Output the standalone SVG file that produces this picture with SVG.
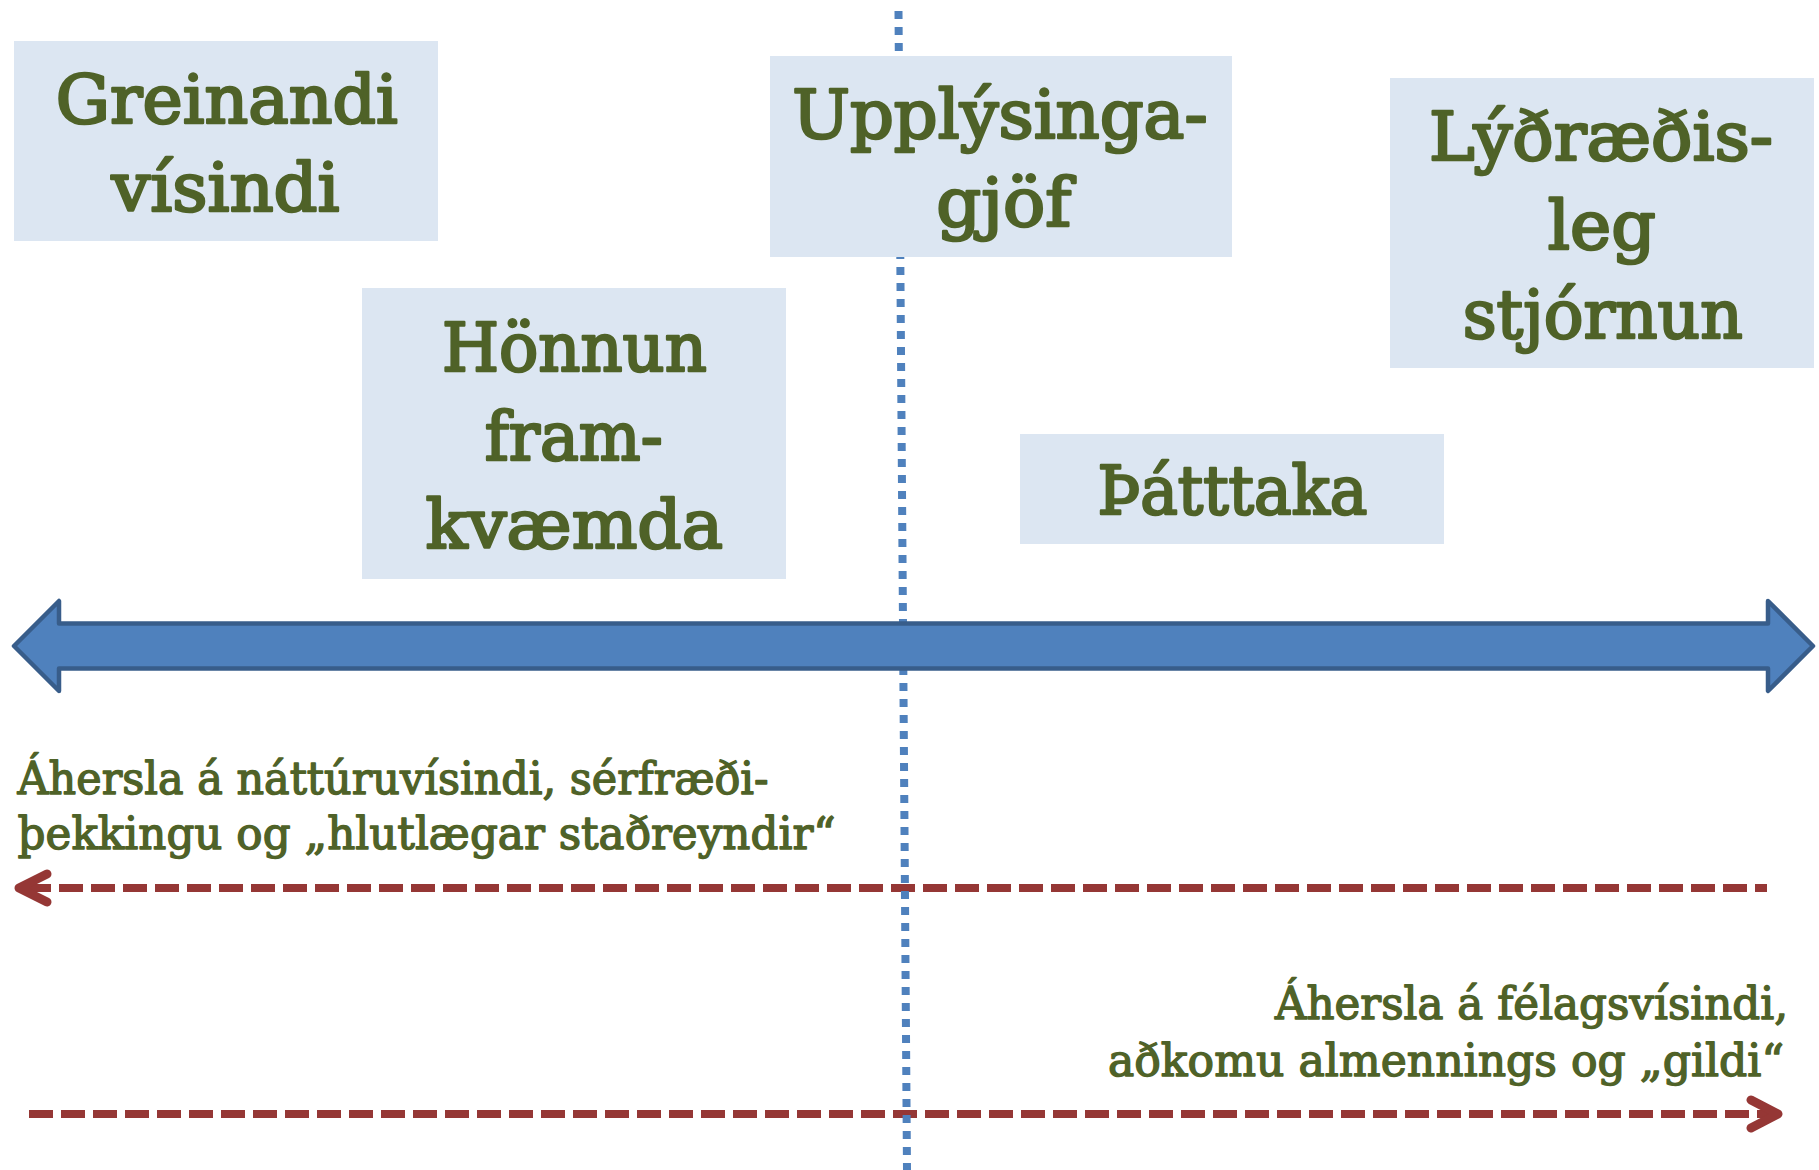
<svg xmlns="http://www.w3.org/2000/svg" width="1819" height="1170" viewBox="0 0 1819 1170">
<style>
.box{fill:#DCE6F2}
.big{font-family:"DejaVu Serif","Liberation Serif",serif;font-size:68px;fill:#4F6228;stroke:#4F6228;stroke-width:2.6;stroke-linejoin:round}
.small{font-family:"DejaVu Serif","Liberation Serif",serif;font-size:44px;fill:#4F6228;stroke:#4F6228;stroke-width:1.4;stroke-linejoin:round}
.red{fill:none;stroke:#953735;stroke-width:8;stroke-dasharray:24 8}
.head{fill:none;stroke:#953735;stroke-width:9;stroke-linecap:round;stroke-linejoin:round}
</style>
<rect width="1819" height="1170" fill="#FFFFFF"/>
<g id="connectors">
<line class="red" x1="27" y1="888" x2="1767" y2="888"/>
<path class="head" d="M47,874 L19,888 L47,902"/>
<line class="red" x1="29" y1="1114" x2="1774" y2="1114"/>
<path class="head" d="M1751,1100 L1778,1114 L1751,1128"/>
<line x1="898.5" y1="11" x2="907" y2="1170" stroke="#4F81BD" stroke-width="8" stroke-dasharray="8 8"/>
<path id="axis" d="M14,646 L59,601 L59,623.5 L1768,623.5 L1768,601 L1813,646 L1768,691 L1768,668.5 L59,668.5 L59,691 Z" fill="#4F81BD" stroke="#385D8A" stroke-width="4.5" stroke-linejoin="round"/>
</g>
<g id="greinandi">
<rect class="box" x="14" y="41" width="424" height="200"/>
<text class="big" x="55.7" y="123" textLength="342" lengthAdjust="spacingAndGlyphs">Greinandi</text>
<text class="big" x="111.5" y="210.5" textLength="228" lengthAdjust="spacingAndGlyphs">vísindi</text>
</g>
<g id="honnun">
<rect class="box" x="362" y="288" width="424" height="291"/>
<text class="big" x="441.9" y="370.5" textLength="265" lengthAdjust="spacingAndGlyphs">Hönnun</text>
<text class="big" x="484.7" y="460.4" textLength="178" lengthAdjust="spacingAndGlyphs">fram-</text>
<text class="big" x="425.5" y="548" textLength="297.5" lengthAdjust="spacingAndGlyphs">kvæmda</text>
</g>
<g id="upplysingagjof">
<rect class="box" x="770" y="56" width="462" height="201"/>
<text class="big" x="792.2" y="138" textLength="415.5" lengthAdjust="spacingAndGlyphs">Upplýsinga-</text>
<text class="big" x="936.3" y="225.8" textLength="135" lengthAdjust="spacingAndGlyphs">gjöf</text>
</g>
<g id="lydraedisleg">
<rect class="box" x="1390" y="78" width="424" height="290"/>
<text class="big" x="1429" y="160" textLength="344" lengthAdjust="spacingAndGlyphs">Lýðræðis-</text>
<text class="big" x="1547.7" y="248.8" textLength="108" lengthAdjust="spacingAndGlyphs">leg</text>
<text class="big" x="1462.7" y="337.5" textLength="280" lengthAdjust="spacingAndGlyphs">stjórnun</text>
</g>
<g id="thatttaka">
<rect class="box" x="1020" y="434" width="424" height="110"/>
<text class="big" x="1097.5" y="513.6" textLength="270" lengthAdjust="spacingAndGlyphs">Þátttaka</text>
</g>
<g id="label-left">
<text class="small" x="17.6" y="793.7" textLength="751" lengthAdjust="spacingAndGlyphs">Áhersla á náttúruvísindi, sérfræði-</text>
<text class="small" x="17.6" y="849" textLength="818" lengthAdjust="spacingAndGlyphs">þekkingu og „hlutlægar staðreyndir“</text>
</g>
<g id="label-right">
<text class="small" x="1275" y="1019.4" textLength="513" lengthAdjust="spacingAndGlyphs">Áhersla á félagsvísindi,</text>
<text class="small" x="1108" y="1076" textLength="676" lengthAdjust="spacingAndGlyphs">aðkomu almennings og „gildi“</text>
</g>
</svg>
